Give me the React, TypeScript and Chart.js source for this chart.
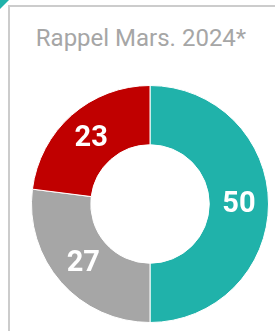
import React, { useEffect, useRef } from "react";
import { Chart, registerables } from "chart.js";

Chart.register(...registerables);

const title = "Rappel Mars. 2024*";
const categories = ["A", "B", "C"];
const values = [50, 27, 23];
const colors = ["#20B2AA", "#A6A6A6", "#C00000"];

const labelPlugin = {
  id: "arcLabels",
  afterDatasetsDraw(chart: any) {
    const ctx = chart.ctx;
    const meta = chart.getDatasetMeta(0);
    ctx.save();
    ctx.fillStyle = "#ffffff";
    ctx.font = "bold 29px Roboto";
    ctx.textAlign = "center";
    ctx.textBaseline = "middle";
    meta.data.forEach((arc: any, i: number) => {
      const p = arc.getCenterPoint();
      ctx.fillText(String(chart.data.datasets[0].data[i]), p.x, p.y + 1);
    });
    ctx.restore();
  },
};

export default function App() {
  const ref = useRef<HTMLCanvasElement>(null);
  useEffect(() => {
    if (!ref.current) return;
    const chart = new Chart(ref.current, {
      type: "doughnut",
      data: {
        labels: categories,
        datasets: [
          {
            data: values,
            backgroundColor: colors,
            borderColor: "#ffffff",
            borderWidth: 1,
          },
        ],
      },
      options: {
        responsive: false,
        animation: false,
        cutout: "50%",
        layout: { padding: 0 },
        plugins: { legend: { display: false }, tooltip: { enabled: false }, title: { display: false } },
      },
      plugins: [labelPlugin],
    });
    return () => chart.destroy();
  }, []);

  return (
    <div style={{ position: "fixed", left: 0, top: 0, width: 275, height: 331, overflow: "hidden", background: "#fff" }}>
      <div
        style={{
          position: "absolute",
          left: 0,
          top: 0,
          width: 9,
          height: 9,
          background: "#20B2AA",
          clipPath: "polygon(0 0, 100% 0, 0 100%)",
        }}
      />
      <div
        style={{
          position: "absolute",
          left: 8,
          top: 5,
          width: 400,
          height: 400,
          borderLeft: "2px solid #cccccc",
          borderTop: "2px solid #cccccc",
        }}
      />
      <div
        style={{
          position: "absolute",
          left: 0,
          top: 26,
          width: 282,
          textAlign: "center",
          font: "24px Roboto",
          lineHeight: "24px",
          color: "#a6a6a6",
          whiteSpace: "nowrap",
        }}
      >
        {title}
      </div>
      <canvas ref={ref} width={238} height={238} style={{ position: "absolute", left: 31, top: 85 }} />
    </div>
  );
}
